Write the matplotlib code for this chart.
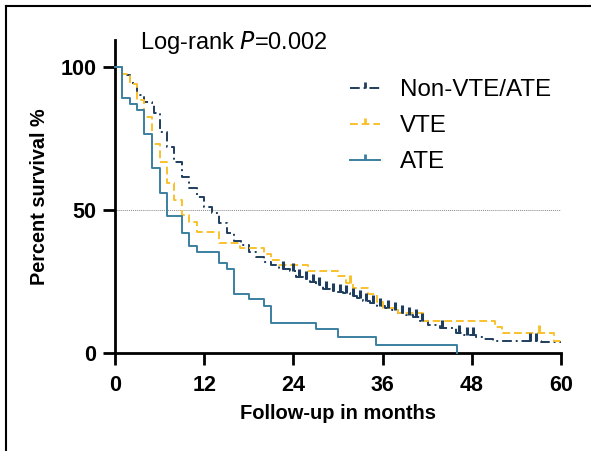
import matplotlib
matplotlib.use("Agg")
import matplotlib.pyplot as plt
from matplotlib.lines import Line2D
import numpy as np

plt.rcParams['font.family'] = ['Liberation Sans', 'DejaVu Sans']

# Kaplan-Meier step data (months, percent survival)
non_t = [0, 1.0, 2.0, 3.0, 3.4, 3.9, 5.0, 5.2, 6.05, 7.0, 8.0, 9.0, 10.0, 11.0,
         12.0, 13.0, 14.0, 15.0, 16.0, 17.0, 18.0, 19.0, 20.0, 21.0, 22.1, 23.5,
         24.4, 25.3, 26.2, 27.1, 28.0, 28.9, 29.8, 30.7, 31.6, 32.5, 33.4, 34.3,
         35.2, 36.3, 37.2, 38.1, 39.2, 40.1, 41.0, 42.1, 43.7, 45.9, 47.0, 48.6,
         49.5, 50.8, 57.3, 60.0]
non_s = [100, 97.3, 94.4, 90.9, 90.3, 88.0, 87.4, 83.9, 77.5, 72.2, 67.0, 61.7,
         57.8, 54.8, 51.3, 49.0, 45.7, 42.2, 39.3, 37.9, 35.5, 33.6, 32.0, 30.8,
         29.6, 28.6, 26.8, 25.9, 25.0, 23.9, 22.4, 21.9, 21.5, 21.0, 20.0, 19.2,
         18.4, 17.7, 16.5, 15.7, 15.1, 14.2, 13.4, 12.6, 11.4, 9.9, 8.7, 7.2,
         6.4, 5.6, 4.9, 4.3, 3.9, 3.9]
non_cens = [22.6, 23.9, 24.8, 25.7, 26.6, 27.5, 28.4, 29.3, 30.2, 31.1, 32.0,
            32.9, 33.8, 34.7, 35.6, 36.7, 37.6, 38.6, 39.6, 40.5, 41.3, 44.0,
            46.3, 47.4, 48.2, 55.8, 56.6]

vte_t = [0, 1.0, 2.0, 3.0, 3.94, 5.0, 6.05, 7.0, 8.0, 9.0, 10.0, 11.0, 14.0,
         16.8, 20.0, 21.0, 22.1, 26.0, 30.0, 31.1, 32.0, 34.0, 35.2, 36.1, 38.1,
         41.4, 51.1, 52.0, 59.1, 60.0]
vte_s = [100, 97.7, 94.1, 88.6, 82.7, 73.1, 67.0, 59.4, 53.6, 48.4, 46.0, 42.3,
         38.5, 36.7, 34.7, 32.6, 30.9, 28.9, 27.0, 24.7, 22.7, 20.7, 18.0, 15.7,
         14.2, 11.4, 9.3, 7.0, 4.4, 4.4]
vte_cens = [31.6, 57.0]

ate_t = [0, 1.0, 2.0, 3.0, 3.9, 5.0, 6.0, 7.0, 9.0, 10.0, 11.0, 14.0, 15.0,
         16.0, 18.0, 20.0, 21.0, 27.0, 30.0, 35.1, 46.0]
ate_s = [100, 89.2, 87.2, 85.0, 76.6, 64.7, 55.9, 48.0, 41.9, 37.5, 35.5, 31.7,
         29.4, 20.7, 18.9, 16.5, 10.5, 8.4, 5.6, 2.9, 0]

labels = ['Non-VTE/ATE', 'VTE', 'ATE']
colors = ['#1f3d5c', '#f8c12e', '#3b7fa0']
styles = [(0, (5, 2, 1, 2)), (0, (4, 2)), '-']

# censor tick that rises from the curve
tick_up = [(0, 0), (0, 1)]

fig = plt.figure(figsize=(5.91, 4.51), dpi=100)
ax = fig.add_axes([0.1946, 0.2166, 0.7547, 0.6947])


def step_at(times, surv, x):
    idx = np.searchsorted(times, x, side='right') - 1
    return np.asarray(surv)[idx]


ax.axhline(50, color='#888888', lw=0.7, ls=(0, (1, 1)), zorder=1)

series = [(non_t, non_s, non_cens), (vte_t, vte_s, vte_cens), (ate_t, ate_s, [])]
for (t, s, cens), col, ls in zip(series, colors, styles):
    ax.step(t, s, where='post', color=col, lw=1.4, ls=ls, zorder=3, clip_on=False)
    if cens:
        ax.plot(cens, step_at(t, s, cens), ls='none', marker=tick_up, ms=11,
                mew=2.2, color=col, zorder=4, clip_on=False)

ax.set_xlim(0, 60)
ax.set_ylim(0, 109.5)
ax.set_xticks([0, 12, 24, 36, 48, 60])
ax.set_yticks([0, 50, 100])
for side in ['top', 'right']:
    ax.spines[side].set_visible(False)
for side in ['left', 'bottom']:
    ax.spines[side].set_linewidth(2.0)
ax.tick_params(direction='out', length=8.5, width=2.0, labelsize=15.5)
ax.tick_params(axis='x', pad=7)
ax.tick_params(axis='y', pad=5)
for lab in ax.get_xticklabels() + ax.get_yticklabels():
    lab.set_fontweight('bold')

ax.set_xlabel('Follow-up in months', fontsize=14.5, fontweight='bold', labelpad=6)
ax.set_ylabel('Percent survival %', fontsize=14.3, fontweight='bold', labelpad=8)

ax.text(3.4, 108.8, 'Log-rank $\\it{P}$=0.002', fontsize=17, va='center', ha='left')

handles = [Line2D([], [], color=c, ls=l, lw=1.4, marker=tick_up, ms=9, mew=2)
           for c, l in zip(colors, styles)]
ax.legend(handles, labels, loc='upper left', bbox_to_anchor=(0.527, 0.875),
          frameon=False, fontsize=17.4, handlelength=1.25, handletextpad=0.8,
          labelspacing=0.58, borderpad=0, borderaxespad=0)

# figure border (left and top edges visible)
fig.add_artist(Line2D([0.0102, 0.0102], [0, 0.9867], color='black', lw=1.5))
fig.add_artist(Line2D([0.0102, 1.0], [0.9867, 0.9867], color='black', lw=1.5))

fig.savefig('out.png', dpi=100)
